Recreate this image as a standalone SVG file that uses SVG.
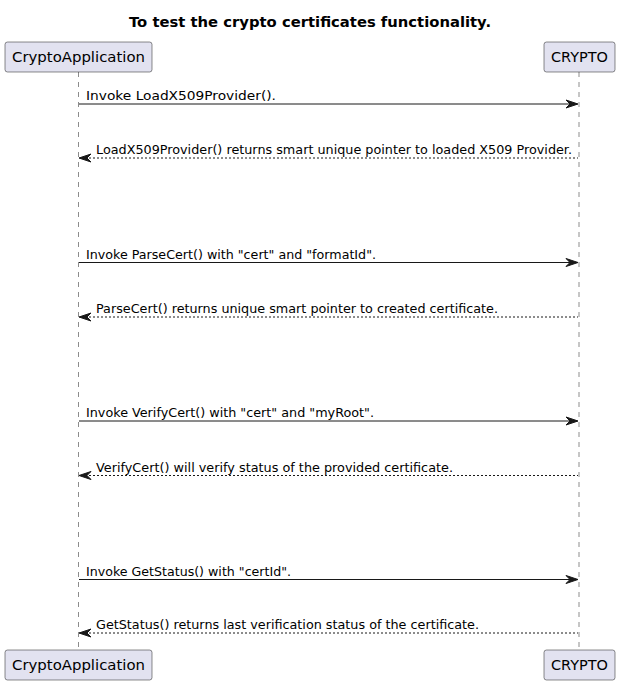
<svg xmlns="http://www.w3.org/2000/svg" width="620" height="685" viewBox="0 0 620 685">
<style>
.life{stroke:#181818;stroke-width:0.5;stroke-dasharray:5,5;fill:none}
.box{fill:#E2E2F0;stroke:#181818;stroke-width:0.5}
.pt{font-family:"DejaVu Sans",sans-serif;font-size:14px;fill:#000}
.mt{font-family:"DejaVu Sans",sans-serif;font-size:13px;fill:#000}
.sol{stroke:#181818;stroke-width:1;fill:none}
.ret{stroke:#181818;stroke-width:1;fill:none;stroke-dasharray:2,2}
.head{fill:#181818;stroke:#181818;stroke-width:1}
</style>
<rect width="620" height="685" fill="#FFFFFF"/>
<text x="310" y="27" text-anchor="middle" font-family="DejaVu Sans,sans-serif" font-size="14" font-weight="bold" textLength="362" lengthAdjust="spacingAndGlyphs">To test the crypto certificates functionality.</text>
<g id="lifelines">
<line class="life" x1="78.5" y1="72" x2="78.5" y2="650"/>
<line class="life" x1="579" y1="72" x2="579" y2="650"/>
</g>
<g id="CryptoApplication">
<rect class="box" x="5" y="42" width="147" height="30" rx="2.5"/>
<text class="pt" x="12" y="62" textLength="133" lengthAdjust="spacingAndGlyphs">CryptoApplication</text>
<rect class="box" x="5" y="650" width="147" height="30" rx="2.5"/>
<text class="pt" x="12" y="670" textLength="133" lengthAdjust="spacingAndGlyphs">CryptoApplication</text>
</g>
<g id="CRYPTO">
<rect class="box" x="544" y="42" width="71" height="30" rx="2.5"/>
<text class="pt" x="551" y="62" textLength="57" lengthAdjust="spacingAndGlyphs">CRYPTO</text>
<rect class="box" x="544" y="650" width="71" height="30" rx="2.5"/>
<text class="pt" x="551" y="670" textLength="57" lengthAdjust="spacingAndGlyphs">CRYPTO</text>
</g>
<g id="connectors">
<line class="sol" x1="79" y1="104" x2="577" y2="104"/>
<polygon class="head" points="566,100 578,104 566,108 570,104"/>
<text class="mt" x="86" y="100" textLength="190" lengthAdjust="spacingAndGlyphs">Invoke LoadX509Provider().</text>
<line class="ret" x1="81" y1="158" x2="578" y2="158"/>
<polygon class="head" points="91,154 79,158 91,162 87,158"/>
<text class="mt" x="96" y="154" textLength="476" lengthAdjust="spacingAndGlyphs">LoadX509Provider() returns smart unique pointer to loaded X509 Provider.</text>

<line class="sol" x1="79" y1="262.5" x2="577" y2="262.5"/>
<polygon class="head" points="566,258.5 578,262.5 566,266.5 570,262.5"/>
<text class="mt" x="86" y="258.5" textLength="290" lengthAdjust="spacingAndGlyphs">Invoke ParseCert() with "cert" and "formatId".</text>
<line class="ret" x1="81" y1="317" x2="578" y2="317"/>
<polygon class="head" points="91,313 79,317 91,321 87,317"/>
<text class="mt" x="96" y="313" textLength="402" lengthAdjust="spacingAndGlyphs">ParseCert() returns unique smart pointer to created certificate.</text>

<line class="sol" x1="79" y1="421" x2="577" y2="421"/>
<polygon class="head" points="566,417 578,421 566,425 570,421"/>
<text class="mt" x="86" y="417" textLength="288" lengthAdjust="spacingAndGlyphs">Invoke VerifyCert() with "cert" and "myRoot".</text>
<line class="ret" x1="81" y1="475.5" x2="578" y2="475.5"/>
<polygon class="head" points="91,471.5 79,475.5 91,479.5 87,475.5"/>
<text class="mt" x="96" y="471.5" textLength="357" lengthAdjust="spacingAndGlyphs">VerifyCert() will verify status of the provided certificate.</text>

<line class="sol" x1="79" y1="579.5" x2="577" y2="579.5"/>
<polygon class="head" points="566,575.5 578,579.5 566,583.5 570,579.5"/>
<text class="mt" x="86" y="575.5" textLength="205" lengthAdjust="spacingAndGlyphs">Invoke GetStatus() with "certId".</text>
<line class="ret" x1="81" y1="633" x2="578" y2="633"/>
<polygon class="head" points="91,629 79,633 91,637 87,633"/>
<text class="mt" x="96" y="629" textLength="383" lengthAdjust="spacingAndGlyphs">GetStatus() returns last verification status of the certificate.</text>
</g>
</svg>
